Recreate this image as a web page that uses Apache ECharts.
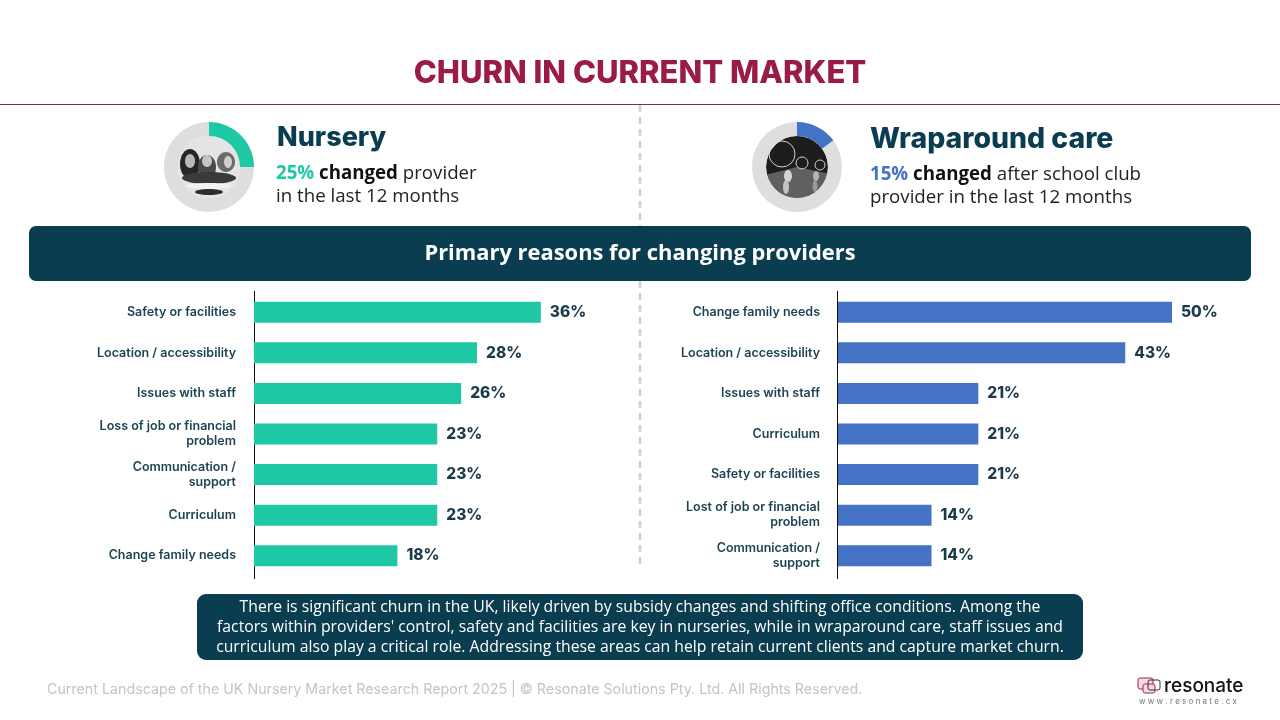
<!DOCTYPE html>
<html>
<head>
<meta charset="utf-8">
<title>Churn in current market</title>
<script src="https://cdn.jsdelivr.net/npm/echarts@6/dist/echarts.min.js"></script>
<style>
  html, body { margin: 0; padding: 0; background: #fff; }
  #main { width: 1280px; height: 720px; }
</style>
</head>
<body>
<div id="main"></div>
<script>
var nurseryReasons = ['Safety or facilities', 'Location / accessibility', 'Issues with staff', 'Loss of job or financial\nproblem', 'Communication /\nsupport', 'Curriculum', 'Change family needs'];
var nurseryValues = [36, 28, 26, 23, 23, 23, 18];
var wrapReasons = ['Change family needs', 'Location / accessibility', 'Issues with staff', 'Curriculum', 'Safety or facilities', 'Lost of job or financial\nproblem', 'Communication /\nsupport'];
var wrapValues = [50, 43, 21, 21, 21, 14, 14];
var nurseryChanged = [25, 75];
var wrapChanged = [15, 85];

var TEAL = '#1fc8a5';
var BLUE = '#4472c4';
var NAVY = '#0a3d4f';
var MAROON = '#9b1b47';
var HEAD = 'Inter';
var BODY = '"Open Sans"';

var chart = echarts.init(document.getElementById('main'));

function ring(center, data, color) {
    return {
        type: 'pie',
        silent: true,
        center: center,
        radius: [31, 45],
        startAngle: 90,
        label: { show: false },
        labelLine: { show: false },
        data: [
            { value: data[0], itemStyle: { color: color } },
            { value: data[1], itemStyle: { color: '#dedede' } }
        ]
    };
}

function yAxis(index, cats) {
    return {
        type: 'category',
        gridIndex: index,
        inverse: true,
        data: cats,
        axisTick: { show: false },
        axisLine: { show: false },
        axisLabel: {
            margin: 18,
            fontFamily: HEAD,
            fontSize: 12.5,
            fontWeight: 600,
            lineHeight: 15,
            color: '#1c4454',
            align: 'right'
        }
    };
}

function bars(index, values, color) {
    return {
        type: 'bar',
        xAxisIndex: index,
        yAxisIndex: index,
        data: values,
        barWidth: 21,
        itemStyle: { color: color },
        label: {
            show: true,
            position: 'right',
            distance: 9,
            formatter: '{c}%',
            fontFamily: HEAD,
            fontSize: 15.5,
            fontWeight: 800,
            color: '#1b3a4b'
        }
    };
}

function textEl(x, y, text, size, weight, color, family, align) {
    return {
        type: 'text',
        x: x,
        y: y,
        style: {
            text: text,
            fontSize: size,
            fontWeight: weight,
            fill: color,
            fontFamily: family,
            align: align || 'left',
            verticalAlign: 'middle'
        }
    };
}

function richLine(x, y, pct, color, rest) {
    return {
        type: 'text',
        x: x,
        y: y,
        style: {
            text: '{p|' + pct + ' }{b|changed }{n|' + rest + '}',
            verticalAlign: 'middle',
            rich: {
                p: { fontFamily: BODY, fontSize: 18.7, fontWeight: 700, fill: color, color: color },
                b: { fontFamily: BODY, fontSize: 18.7, fontWeight: 700, fill: '#111', color: '#111' },
                n: { fontFamily: BODY, fontSize: 18.7, fill: '#222', color: '#222' }
            }
        }
    };
}

function dot(cx, cy, r, color) {
    return { type: 'circle', shape: { cx: cx, cy: cy, r: r }, style: { fill: color } };
}

function blob(cx, cy, rx, ry, color) {
    return { type: 'ellipse', shape: { cx: cx, cy: cy, rx: rx, ry: ry }, style: { fill: color } };
}

function outline(cx, cy, r, color) {
    return { type: 'circle', shape: { cx: cx, cy: cy, r: r }, style: { fill: 'none', stroke: color, lineWidth: 1 } };
}

var note = "There is significant churn in the UK, likely driven by subsidy changes and shifting office conditions. Among the\n" +
    "factors within providers' control, safety and facilities are key in nurseries, while in wraparound care, staff issues and\n" +
    "curriculum also play a critical role. Addressing these areas can help retain current clients and capture market churn.";

var graphics = [
    textEl(640, 74, 'CHURN IN CURRENT MARKET', 31, 800, MAROON, HEAD, 'center'),
    { type: 'line', shape: { x1: 0, y1: 104.5, x2: 1280, y2: 104.5 }, style: { stroke: '#8a2a4b', lineWidth: 1 } },
    { type: 'line', shape: { x1: 640, y1: 105, x2: 640, y2: 226 }, style: { stroke: '#d0d0d0', lineWidth: 2.5, lineDash: [7, 5] } },
    { type: 'line', shape: { x1: 640, y1: 281, x2: 640, y2: 566 }, style: { stroke: '#d0d0d0', lineWidth: 2.5, lineDash: [7, 5] } },

    // nursery photo stand-in
    dot(209, 167, 31, '#e4e4e4'),
    blob(190, 164, 10, 15, '#262626'),
    blob(190, 161, 5, 7, '#b8b8b8'),
    blob(207, 167, 9, 12, '#4a4a4a'),
    blob(207, 161, 5, 6, '#c4c4c4'),
    blob(226, 162, 9, 10, '#6a6a6a'),
    blob(228, 162, 4, 6, '#cfcfcf'),
    blob(209, 178, 27, 6, '#3a3a3a'),
    blob(209, 186, 23, 3, '#f2f2f2'),
    blob(209, 192, 14, 3, '#2e2e2e'),

    // wraparound photo stand-in
    dot(797, 167, 31, '#1d1d1d'),
    { type: 'sector', shape: { cx: 797, cy: 167, r: 31, r0: 0, startAngle: 0.2, endAngle: 2.9 }, style: { fill: '#606060' } },
    outline(782, 154, 13, '#cfcfcf'),
    outline(802, 163, 6, '#cfcfcf'),
    outline(820, 165, 5, '#cfcfcf'),
    blob(788, 176, 4, 6, '#d5d5d5'),
    blob(816, 176, 3, 5, '#b5b5b5'),
    blob(786, 187, 3, 7, '#c2c2c2'),
    blob(815, 186, 2.5, 6, '#9a9a9a'),

    textEl(277, 138, 'Nursery', 27, 800, NAVY, HEAD),
    richLine(276, 174, '25%', TEAL, 'provider'),
    textEl(276, 197, 'in the last 12 months', 18.7, 400, '#222', BODY),
    textEl(870, 139, 'Wraparound care', 28.4, 800, NAVY, HEAD),
    richLine(870, 175, '15%', BLUE, 'after school club'),
    textEl(870, 198, 'provider in the last 12 months', 18.7, 400, '#222', BODY),

    { type: 'rect', shape: { x: 29, y: 226, width: 1222, height: 55, r: 7 }, style: { fill: NAVY } },
    textEl(640, 254, 'Primary reasons for changing providers', 21.9, 700, '#fff', BODY, 'center'),

    { type: 'line', shape: { x1: 254.5, y1: 291, x2: 254.5, y2: 579 }, style: { stroke: '#111', lineWidth: 1 } },
    { type: 'line', shape: { x1: 837.5, y1: 291, x2: 837.5, y2: 579 }, style: { stroke: '#111', lineWidth: 1 } },

    { type: 'rect', shape: { x: 197, y: 594, width: 886, height: 66, r: 9 }, style: { fill: NAVY } },
    {
        type: 'text',
        x: 640,
        y: 628,
        style: {
            text: note,
            fontFamily: BODY,
            fontSize: 15.75,
            lineHeight: 20,
            fill: '#fff',
            align: 'center',
            verticalAlign: 'middle'
        }
    },

    textEl(47, 690, 'Current Landscape of the UK Nursery Market Research Report 2025 | \u00a9 Resonate Solutions Pty. Ltd. All Rights Reserved.', 14.25, 400, '#c4c4c4', HEAD),

    // logo
    { type: 'rect', shape: { x: 1138, y: 678, width: 15, height: 11, r: 2 }, style: { fill: '#f3dbe3', stroke: '#a3274f', lineWidth: 1 } },
    { type: 'rect', shape: { x: 1143, y: 684, width: 12, height: 9, r: 2 }, style: { fill: '#f3dbe3', stroke: '#a3274f', lineWidth: 1 } },
    { type: 'rect', shape: { x: 1148, y: 680, width: 12, height: 10, r: 2 }, style: { fill: 'none', stroke: '#333', lineWidth: 1 } },
    textEl(1164, 686, 'resonate', 19, 500, '#111', HEAD),
    textEl(1139, 702, 'w w w . r e s o n a t e . c x', 8, 400, '#777', HEAD)
];

var option = {
    backgroundColor: '#fff',
    animation: false,
    grid: [
        { left: 254, top: 292, width: 290, height: 284, containLabel: false },
        { left: 838, top: 292, width: 340, height: 284, containLabel: false }
    ],
    xAxis: [
        { type: 'value', gridIndex: 0, min: 0, max: 36.4, show: false },
        { type: 'value', gridIndex: 1, min: 0, max: 50.9, show: false }
    ],
    yAxis: [yAxis(0, nurseryReasons), yAxis(1, wrapReasons)],
    series: [
        ring([209, 167], nurseryChanged, TEAL),
        ring([797, 167], wrapChanged, BLUE),
        bars(0, nurseryValues, TEAL),
        bars(1, wrapValues, BLUE)
    ],
    graphic: graphics
};

chart.setOption(option);
</script>
</body>
</html>
